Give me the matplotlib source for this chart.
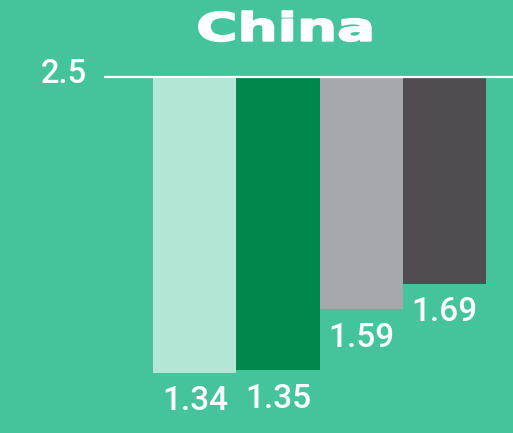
import matplotlib.pyplot as plt
from matplotlib.patheffects import AbstractPathEffect
from matplotlib.transforms import Affine2D

# Values per bar, drawn hanging down from the 2.5 baseline
values = [1.34, 1.35, 1.59, 1.69]
colors = ["#b3e6d5", "#00874b", "#a7a8ab", "#4f4d4f"]
baseline = 2.5
title = "China"

bg = "#45c39a"


class WideHeavy(AbstractPathEffect):
    """Stretch glyphs horizontally about their centre and fatten them."""

    def __init__(self, sx=1.5, lw=2.0):
        super().__init__()
        self.sx = sx
        self.lw = lw

    def draw_path(self, renderer, gc, tpath, affine, rgbFace=None):
        ext = tpath.get_extents()
        cx = (ext.x0 + ext.x1) / 2
        tr = Affine2D().translate(-cx, 0).scale(self.sx, 1).translate(cx, 0) + affine
        gc0 = renderer.new_gc()
        gc0.copy_properties(gc)
        gc0.set_linewidth(self.lw)
        gc0.set_foreground(rgbFace)
        gc0.set_joinstyle("round")
        renderer.draw_path(gc0, tpath, tr, rgbFace)
        gc0.restore()


fig = plt.figure(figsize=(5.13, 4.33), dpi=100)
fig.patch.set_facecolor(bg)
ax = fig.add_axes([0, 0, 1, 1])
ax.set_facecolor(bg)

x = list(range(len(values)))
heights = [baseline - v for v in values]
ax.bar(x, heights, bottom=values, width=1.0, color=colors, zorder=2)

ax.hlines(baseline, -1.1, 4.0, color="white", linewidth=1.6, zorder=3)
ax.text(-1.30, baseline - 0.024, "2.5", ha="right", va="baseline",
        color="white", fontsize=23.5, family="Roboto", fontweight="medium")

for xi, v in zip(x, values):
    ax.annotate(f"{v:.2f}", (xi, v), xytext=(0, -9), textcoords="offset points",
                ha="center", va="top", color="white", fontsize=24,
                family="Roboto", fontweight="medium")

ax.set_xlim(-2.349, 3.831)
ax.set_ylim(1.104, 2.802)
ax.axis("off")

fig.text(0.556, 0.906, title, ha="center", va="baseline", color="white",
         fontsize=28, fontweight="heavy", family="DejaVu Sans",
         path_effects=[WideHeavy(1.45, 1.4)])

fig.savefig("out.png", facecolor=bg)
